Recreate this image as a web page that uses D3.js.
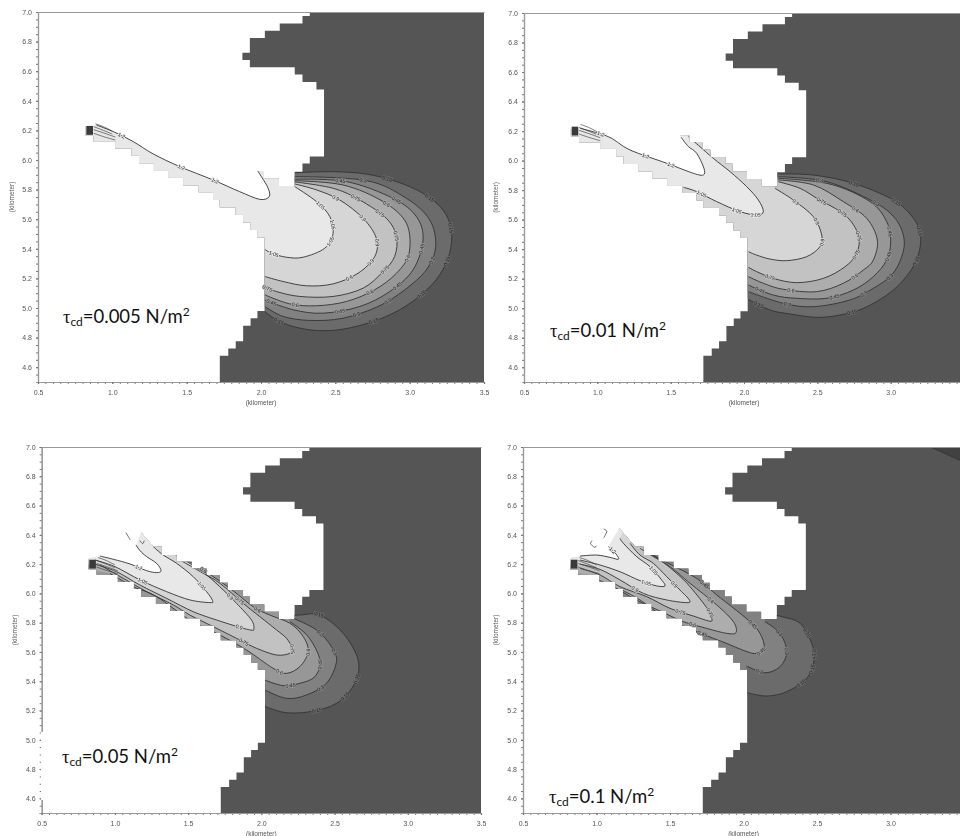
<!DOCTYPE html>
<html>
<head>
<meta charset="utf-8">
<script src="https://cdn.jsdelivr.net/npm/d3@7"></script>
<style>
  html, body { margin: 0; padding: 0; background: #fff; overflow: hidden; }
  svg { display: block; }
  text { font-family: "Liberation Sans", Arial, sans-serif; }
  .plot { filter: blur(0.6px); }
</style>
</head>
<body>
<div id="my_dataviz"></div>
<script>

// axis ticks
var xTickValues = [0.5, 1.0, 1.5, 2.0, 2.5, 3.0, 3.5];
var yTickValues = [4.6, 4.8, 5.0, 5.2, 5.4, 5.6, 5.8, 6.0, 6.2, 6.4, 6.6, 6.8, 7.0];
var levels = [0.15, 0.3, 0.45, 0.6, 0.75, 0.9, 1.05, 1.2];
var levelLabels = ["0.15", "0.3", "0.45", "0.6", "0.75", "0.9", "1.05", "1.2"];
var captions = ["0.005", "0.01", "0.05", "0.1"];

// wet + land area, stepped model grid, in km
var coastUpper = [[2.328,7.0],[2.328,6.973],[2.279,6.973],[2.279,6.923],[2.126,6.923],[2.126,6.874],[2.026,6.874],[2.026,6.824],[1.925,6.824],[1.925,6.725],[1.875,6.725],[1.875,6.676],[1.925,6.676],[1.925,6.626],[2.227,6.626],[2.227,6.577],[2.279,6.577],[2.279,6.527],[2.373,6.527],[2.373,6.477],[2.424,6.477],[2.424,6.023],[2.328,6.023],[2.328,5.977],[2.279,5.977],[2.279,5.921],[2.227,5.921],[2.227,5.825]];
var channelTop = [[2.12,5.825],[2.12,5.875],[2.02,5.875],[2.02,5.925],[1.92,5.925],[1.92,5.978],[1.872,5.978],[1.872,6.023],[1.77,6.023],[1.77,6.073],[1.717,6.073],[1.717,6.126],[1.626,6.126],[1.626,6.17],[1.524,6.17],[1.524,6.217],[1.42,6.217],[1.42,6.262],[1.319,6.262],[1.319,6.32],[1.262,6.32],[1.15,6.45],[1.05,6.45],[0.88,6.28],[0.82,6.23]];
var channelBottom = [[0.82,6.165],[0.875,6.165],[0.875,6.125],[1.02,6.125],[1.02,6.08],[1.13,6.08],[1.13,6.03],[1.18,6.03],[1.18,5.977],[1.28,5.977],[1.28,5.928],[1.376,5.928],[1.376,5.88],[1.477,5.88],[1.477,5.83],[1.582,5.83],[1.582,5.78],[1.678,5.78],[1.678,5.73],[1.723,5.73],[1.723,5.68],[1.83,5.68],[1.83,5.63],[1.88,5.63],[1.88,5.58],[1.93,5.58],[1.93,5.527],[1.976,5.527],[1.976,5.478],[2.025,5.478]];
var coastLower = [[2.025,4.98],[1.976,4.98],[1.976,4.93],[1.93,4.93],[1.93,4.88],[1.88,4.88],[1.88,4.776],[1.83,4.776],[1.83,4.727],[1.78,4.727],[1.78,4.677],[1.723,4.677],[1.723,4.5],[3.5,4.5],[3.5,7.0]];

// ways of closing a contour outside the grid, so it fills its band
var closeWest = [[1.9,5.2],[0.6,5.95],[0.6,6.6],[1.5,6.6],[2.15,6.02]];
var closeNorth = [[1.3,6.7],[0.6,6.7],[0.6,6.2]];
var closeNorthB = [[1.4,6.5],[0.6,6.5],[0.6,5.9],[1.2,5.9],[1.55,5.76]];

// head of the channel
var tipCell = [[0.825,6.23],[0.87,6.23],[0.87,6.17],[0.825,6.17]];
var tipLines = [
  [[0.885,6.245],[0.94,6.225],[1.0,6.195]],
  [[0.875,6.225],[0.94,6.2],[1.0,6.175]],
  [[0.875,6.205],[0.95,6.18],[1.02,6.155]],
  [[0.875,6.18],[0.95,6.155],[1.02,6.135]]
];

// tau = 0.005
var a015 = [[2.227,5.914],[2.485,5.921],[2.709,5.905],[2.911,5.854],[3.09,5.775],[3.224,5.663],[3.28,5.528],[3.269,5.37],[3.202,5.224],[3.09,5.10],[2.933,4.988],[2.754,4.909],[2.552,4.857],[2.373,4.848],[2.216,4.875],[2.104,4.92],[2.026,4.976]];
var a030 = [[2.227,5.888],[2.709,5.861],[2.978,5.741],[3.135,5.595],[3.175,5.415],[3.112,5.258],[2.967,5.123],[2.787,5.01],[2.552,4.931],[2.328,4.916],[2.149,4.943],[2.026,5.01]];
var a045 = [[2.227,5.87],[2.575,5.854],[2.888,5.741],[3.045,5.618],[3.09,5.46],[3.023,5.258],[2.866,5.111],[2.664,5.01],[2.418,4.965],[2.216,4.988],[2.026,5.055]];
var a060 = [[2.227,5.86],[2.552,5.831],[2.821,5.719],[2.978,5.573],[2.996,5.37],[2.911,5.235],[2.765,5.123],[2.575,5.044],[2.373,5.015],[2.194,5.028],[2.026,5.089]];
var a075 = [[2.227,5.852],[2.485,5.809],[2.664,5.73],[2.843,5.606],[2.911,5.483],[2.899,5.348],[2.821,5.246],[2.687,5.134],[2.485,5.078],[2.261,5.078],[2.104,5.111],[2.026,5.141]];
var a090 = [[2.227,5.838],[2.373,5.798],[2.53,5.73],[2.687,5.606],[2.776,5.471],[2.765,5.348],[2.653,5.235],[2.485,5.163],[2.306,5.15],[2.149,5.179],[2.026,5.213]];
var a105 = [[2.227,5.82],[2.373,5.719],[2.463,5.618],[2.485,5.505],[2.429,5.404],[2.283,5.343],[2.171,5.343],[2.071,5.37],[2.026,5.397]];
var a120 = [[0.894,6.236],[1.017,6.187],[1.141,6.124],[1.275,6.041],[1.454,5.955],[1.678,5.865],[1.857,5.786],[1.992,5.734],[2.055,5.752],[2.048,5.809],[2.003,5.887],[1.952,5.966]];

// tau = 0.01
var b015 = [[2.234,5.909],[2.473,5.902],[2.746,5.846],[3.018,5.733],[3.155,5.609],[3.205,5.485],[3.177,5.327],[3.087,5.191],[2.973,5.089],[2.814,4.999],[2.655,4.954],[2.495,4.938],[2.314,4.961],[2.177,4.988],[2.03,5.06]];
var b030 = [[2.234,5.891],[2.564,5.857],[2.882,5.722],[3.03,5.609],[3.091,5.473],[3.075,5.349],[3.007,5.225],[2.882,5.135],[2.723,5.056],[2.473,5.01],[2.268,5.033],[2.03,5.112]];
var b045 = [[2.234,5.88],[2.586,5.841],[2.859,5.722],[2.973,5.586],[3.0,5.451],[2.973,5.327],[2.882,5.214],[2.746,5.123],[2.564,5.067],[2.359,5.067],[2.2,5.089],[2.03,5.157]];
var b060 = [[2.234,5.869],[2.473,5.835],[2.677,5.722],[2.836,5.609],[2.909,5.462],[2.882,5.327],[2.814,5.259],[2.677,5.169],[2.495,5.112],[2.268,5.128],[2.132,5.169],[2.03,5.214]];
var b075 = [[2.234,5.857],[2.382,5.812],[2.507,5.738],[2.689,5.631],[2.78,5.496],[2.768,5.372],[2.689,5.281],[2.541,5.202],[2.359,5.173],[2.2,5.202],[2.086,5.248],[2.03,5.277]];
var b090 = [[2.211,5.812],[2.336,5.733],[2.473,5.62],[2.53,5.496],[2.518,5.417],[2.427,5.349],[2.291,5.322],[2.177,5.333],[2.086,5.36],[2.03,5.383]];
var b105 = [[1.587,5.819],[1.677,5.79],[1.814,5.722],[1.973,5.654],[2.087,5.632],[2.132,5.654],[2.098,5.733],[2.018,5.824],[1.905,5.925],[1.791,6.015],[1.70,6.094],[1.621,6.162]];
var b120 = [[0.882,6.219],[1.075,6.162],[1.223,6.072],[1.473,5.982],[1.655,5.914],[1.723,5.903],[1.727,5.948],[1.677,6.05],[1.621,6.095],[1.571,6.158]];

// tau = 0.05
var c015 = [[2.218,5.85],[2.263,5.852],[2.4,5.852],[2.559,5.727],[2.661,5.545],[2.638,5.386],[2.513,5.249],[2.331,5.192],[2.172,5.185],[2.058,5.215],[2.024,5.231]];
var c030 = [[2.217,5.83],[2.377,5.75],[2.479,5.636],[2.513,5.534],[2.445,5.386],[2.308,5.306],[2.172,5.283],[2.024,5.34]];
var c045 = [[2.195,5.807],[2.32,5.705],[2.4,5.545],[2.365,5.431],[2.263,5.386],[2.149,5.37],[2.024,5.408]];
var c060 = [[0.966,6.137],[1.126,6.046],[1.285,5.978],[1.512,5.818],[1.717,5.716],[1.899,5.613],[2.081,5.488],[2.172,5.454],[2.263,5.5],[2.32,5.602],[2.286,5.705],[2.195,5.796],[2.058,5.852],[1.944,5.909],[1.785,6.035],[1.603,6.16],[1.49,6.228]];
var c075 = [[0.898,6.194],[1.057,6.103],[1.217,6.012],[1.399,5.921],[1.512,5.852],[1.671,5.773],[1.831,5.693],[1.967,5.625],[2.104,5.579],[2.195,5.591],[2.211,5.625],[2.172,5.693],[2.104,5.75],[1.99,5.841],[1.876,5.932],[1.717,6.069],[1.603,6.137],[1.444,6.228]];
var c090 = [[0.864,6.2],[1.012,6.148],[1.171,6.057],[1.353,5.966],[1.535,5.875],[1.695,5.818],[1.854,5.768],[1.927,5.75],[1.949,5.755],[1.933,5.818],[1.831,5.932],[1.74,6.023],[1.626,6.126],[1.512,6.205],[1.398,6.274]];
var c105 = [[0.864,6.228],[1.0,6.183],[1.171,6.092],[1.353,6.012],[1.513,5.955],[1.649,5.937],[1.667,5.95],[1.626,6.012],[1.535,6.114],[1.422,6.205],[1.33,6.262],[1.262,6.319]];
var c120 = [[0.898,6.255],[0.989,6.233],[1.103,6.201],[1.217,6.155],[1.285,6.142],[1.315,6.155],[1.285,6.205],[1.217,6.251],[1.171,6.292],[1.144,6.331]];
var curlsC = [[[1.075,6.415],[1.09,6.39],[1.105,6.365]],[[1.17,6.36],[1.19,6.34],[1.2,6.36]]];

// tau = 0.1
var d015 = [[2.218,5.85],[2.26,5.841],[2.385,5.796],[2.464,5.659],[2.48,5.545],[2.43,5.42],[2.294,5.329],[2.158,5.299],[2.022,5.322]];
var d030 = [[2.146,5.807],[2.248,5.727],[2.294,5.602],[2.248,5.5],[2.146,5.458],[2.022,5.504]];
var d045 = [[1.16,6.03],[1.296,5.955],[1.477,5.83],[1.75,5.711],[1.874,5.663],[2.01,5.607],[2.09,5.59],[2.14,5.636],[2.112,5.727],[2.044,5.807],[1.92,5.909],[1.818,5.989],[1.681,6.103],[1.489,6.205],[1.364,6.274]];
var d060 = [[0.933,6.126],[1.115,6.046],[1.273,5.955],[1.466,5.864],[1.591,5.807],[1.75,5.761],[1.886,5.727],[1.949,5.732],[1.931,5.807],[1.818,5.921],[1.636,6.069],[1.5,6.183],[1.387,6.251],[1.296,6.308]];
var d075 = [[0.888,6.171],[1.024,6.126],[1.16,6.046],[1.341,5.978],[1.5,5.898],[1.66,5.845],[1.772,5.81],[1.784,5.83],[1.761,5.887],[1.636,6.046],[1.545,6.137],[1.432,6.228],[1.318,6.296]];
var d090 = [[0.888,6.2],[1.024,6.164],[1.16,6.092],[1.319,6.0],[1.478,5.955],[1.614,5.937],[1.632,5.955],[1.568,6.023],[1.478,6.114],[1.387,6.205],[1.296,6.262],[1.228,6.342]];
var d105 = [[0.888,6.228],[1.024,6.194],[1.16,6.148],[1.296,6.087],[1.41,6.051],[1.466,6.051],[1.443,6.092],[1.364,6.183],[1.273,6.251],[1.183,6.342],[1.16,6.376]];
var d120 = [[0.888,6.255],[1.0,6.262],[1.092,6.246],[1.149,6.233],[1.133,6.269],[1.081,6.319]];
var curlsD = [[[0.97,6.36],[0.96,6.34],[0.985,6.315],[1.0,6.325]],[[1.05,6.44],[1.07,6.425],[1.06,6.40],[1.05,6.38]]];
var cornerD = [[3.27,7.0],[3.47,6.91],[3.52,6.87],[3.52,7.0]];

// where the labels sit along each contour, as a fraction of its length
var labelsA = [[.22,.33,.42,.5,.6,.73,.96],[.18,.5,.66,.75],[.13,.3,.47,.6,.78,.98],[.3,.5,.66,.9],[.22,.32,.42,.55,.99],[.18,.32,.44,.53,.64],[.22,.38,.5,.93],[.12,.42,.58]];
var labelsB = [[.2,.32,.42,.5,.72,.97],[.12,.3,.56,.65,.88],[.42,.5,.72,.96],[.3,.6,.84],[.2,.3,.42,.5,.9],[.16,.34,.48],[.3,.4,.1],[.12,.4,.55]];
var labelsC = [[.12,.5,.6,.75],[.2,.35,.62],[.45,.78],[.5,.6,.78,.95],[.45,.6,.8],[.55,.75],[.25,.7],[.4]];
var labelsD = [[.25,.4,.5,.62],[.2,.42,.85],[.3,.5,.6,.8],[.4,.7],[.45,.62],[.3,.7],[.45,.7],[.9]];

var bandGreys = ["#6b6b6b", "#818181", "#979797", "#adadad", "#c2c2c2", "#d6d6d6", "#e8e8e8", "#ffffff"];

var panels = [
  { caption: 0, left: 38, right: 484, top: 12, bottom: 382, yTitleX: 14, capX: 63, capY: 323,
    contours: [a015,a030,a045,a060,a075,a090,a105,a120], closes: [closeWest,closeWest,closeWest,closeWest,closeWest,closeWest,closeWest,closeNorth], labels: labelsA, curls: [] },
  { caption: 1, left: 524, right: 964, top: 13, bottom: 382, yTitleX: 498, capX: 550, capY: 337,
    contours: [b015,b030,b045,b060,b075,b090,b105,b120], closes: [closeWest,closeWest,closeWest,closeWest,closeWest,closeWest,closeNorthB,closeNorth], labels: labelsB, curls: [] },
  { caption: 2, left: 41.7, right: 481, top: 447, bottom: 813, yTitleX: 17, capX: 62, capY: 763,
    contours: [c015,c030,c045,c060,c075,c090,c105,c120], closes: [closeWest,closeWest,closeWest,closeNorth,closeNorth,closeNorth,closeNorth,closeNorth], labels: labelsC, curls: curlsC },
  { caption: 3, left: 523, right: 964, top: 447, bottom: 813, yTitleX: 498, capX: 549, capY: 803,
    contours: [d015,d030,d045,d060,d075,d090,d105,d120], closes: [closeWest,closeWest,closeNorth,closeNorth,closeNorth,closeNorth,closeNorth,closeNorth], labels: labelsD, curls: curlsD }
];

var svg = d3.select("#my_dataviz")
  .append("svg")
    .attr("width", 960)
    .attr("height", 836);

panels.forEach(function(p, pi) {

  var x = d3.scaleLinear().domain([0.5, 3.5]).range([p.left, p.right]);
  var y = d3.scaleLinear().domain([4.5, 7.0]).range([p.bottom, p.top]);

  var g = svg.append("g").attr("class", "plot");

  function xy(pts) {
    return pts.map(function(d) { return x(d[0]) + "," + y(d[1]); }).join("L");
  }
  var line = d3.line()
    .x(function(d) { return x(d[0]); })
    .y(function(d) { return y(d[1]); })
    .curve(d3.curveCatmullRom.alpha(0));

  // the model grid: everything outside stays white
  var gridPts = coastUpper.concat(channelTop, channelBottom, coastLower);
  var clipId = "grid" + pi;
  g.append("clipPath").attr("id", clipId)
    .append("path").attr("d", "M" + xy(gridPts) + "Z");

  // dark land, without the channel which the bands fill anyway
  g.append("path")
    .attr("d", "M" + xy(coastUpper.concat([[2.025,5.478]], coastLower)) + "Z")
    .attr("fill", "#555555");

  var bands = g.append("g").attr("clip-path", "url(#" + clipId + ")");

  // darkest band first, each next level painted on top of it
  p.contours.forEach(function(c, i) {
    if (i == 7) return;
    bands.append("path")
      .attr("d", line(c) + "L" + xy(p.closes[i]) + "Z")
      .attr("fill", bandGreys[i]);
  });

  // top level is white like the page, and is left unclipped so no grid edge shows
  g.append("path")
    .attr("d", line(p.contours[7]) + "L" + xy(p.closes[7]) + "Z")
    .attr("fill", bandGreys[7]);

  var strokes = g.append("g").attr("clip-path", "url(#" + clipId + ")");
  p.contours.forEach(function(c) {
    strokes.append("path")
      .attr("d", line(c))
      .attr("fill", "none")
      .attr("stroke", "#333")
      .attr("stroke-width", 0.9);
  });

  if (pi == 3) {
    strokes.append("path")
      .attr("d", "M" + xy(cornerD) + "Z")
      .attr("fill", "#414141")
      .attr("stroke", "#333")
      .attr("stroke-width", 0.8);
  }

  tipLines.forEach(function(t) {
    strokes.append("path")
      .attr("d", line(t))
      .attr("fill", "none")
      .attr("stroke", "#444")
      .attr("stroke-width", 0.7);
  });
  g.append("path").attr("d", "M" + xy(tipCell) + "Z").attr("fill", "#3a3a3a");

  p.curls.forEach(function(t) {
    g.append("path")
      .attr("d", line(t))
      .attr("fill", "none")
      .attr("stroke", "#444")
      .attr("stroke-width", 0.8);
  });

  // contour labels, turned along the line
  p.contours.forEach(function(c, i) {
    var probe = g.append("path").attr("d", line(c)).attr("fill", "none");
    var node = probe.node(), len = node.getTotalLength();
    p.labels[i].forEach(function(f) {
      var a = node.getPointAtLength(len * f);
      var b = node.getPointAtLength(Math.min(len, len * f + 2));
      var c0 = node.getPointAtLength(Math.max(0, len * f - 2));
      var angle = Math.atan2(b.y - c0.y, b.x - c0.x) * 180 / Math.PI;
      if (angle > 90) angle -= 180;
      if (angle < -90) angle += 180;
      g.append("text")
        .attr("transform", "translate(" + a.x + "," + a.y + ") rotate(" + angle + ")")
        .attr("dy", "0.35em")
        .attr("text-anchor", "middle")
        .attr("font-size", 5.2)
        .attr("fill", "#222")
        .attr("stroke", i == 7 ? bandGreys[6] : bandGreys[i])
        .attr("stroke-width", 1.6)
        .attr("paint-order", "stroke")
        .text(levelLabels[i]);
    });
    probe.remove();
  });

  // axes: one for the dotted minor ticks, one for the labelled ones
  var axes = g.append("g");
  axes.append("g")
    .attr("transform", "translate(" + p.left + ",0)")
    .call(d3.axisLeft(y).tickValues(y.ticks(50)).tickSize(2).tickFormat(""));
  axes.append("g")
    .attr("transform", "translate(" + p.left + ",0)")
    .call(d3.axisLeft(y).tickValues(yTickValues).tickSize(2).tickPadding(4).tickFormat(d3.format(".1f")));
  axes.append("g")
    .attr("transform", "translate(0," + p.bottom + ")")
    .call(d3.axisBottom(x).tickValues(x.ticks(60)).tickSize(2).tickFormat(""));
  axes.append("g")
    .attr("transform", "translate(0," + p.bottom + ")")
    .call(d3.axisBottom(x).tickValues(xTickValues).tickSize(2).tickPadding(6).tickFormat(d3.format(".1f")));
  axes.append("g")
    .attr("transform", "translate(0," + p.top + ")")
    .call(d3.axisTop(x).tickValues([]).tickSize(0));
  axes.selectAll("path.domain").attr("stroke", "#999").attr("stroke-width", 1.2);
  axes.selectAll(".tick line").attr("stroke", "#777");
  axes.selectAll("text").attr("font-size", 7).attr("fill", "#555").attr("font-family", "Liberation Sans");

  g.append("text")
    .attr("x", (p.left + p.right) / 2)
    .attr("y", p.bottom + 23)
    .attr("text-anchor", "middle")
    .attr("font-size", 6.5)
    .attr("fill", "#555")
    .text("(kilometer)");
  g.append("text")
    .attr("transform", "translate(" + p.yTitleX + "," + ((p.top + p.bottom) / 2) + ") rotate(-90)")
    .attr("text-anchor", "middle")
    .attr("font-size", 6.5)
    .attr("fill", "#555")
    .text("(kilometer)");

  // the pasted text box of the third panel hides part of its axis line
  if (pi == 2) {
    svg.append("rect")
      .attr("x", 41).attr("y", 732)
      .attr("width", 30).attr("height", 68)
      .attr("fill", "#fff");
  }

  // caption
  var cap = svg.append("text")
    .attr("x", p.capX)
    .attr("y", p.capY)
    .attr("font-size", 18.5)
    .attr("fill", "#111")
    .style("font-family", "Lato, sans-serif");
  cap.append("tspan").style("font-family", "Liberation Serif").text("\u03c4");
  cap.append("tspan").attr("font-size", 12).attr("dy", 3).text("cd");
  cap.append("tspan").attr("dy", -3).text("=" + captions[p.caption] + " N/m");
  cap.append("tspan").attr("font-size", 12).attr("dy", -7).text("2");
});

</script>
</body>
</html>
